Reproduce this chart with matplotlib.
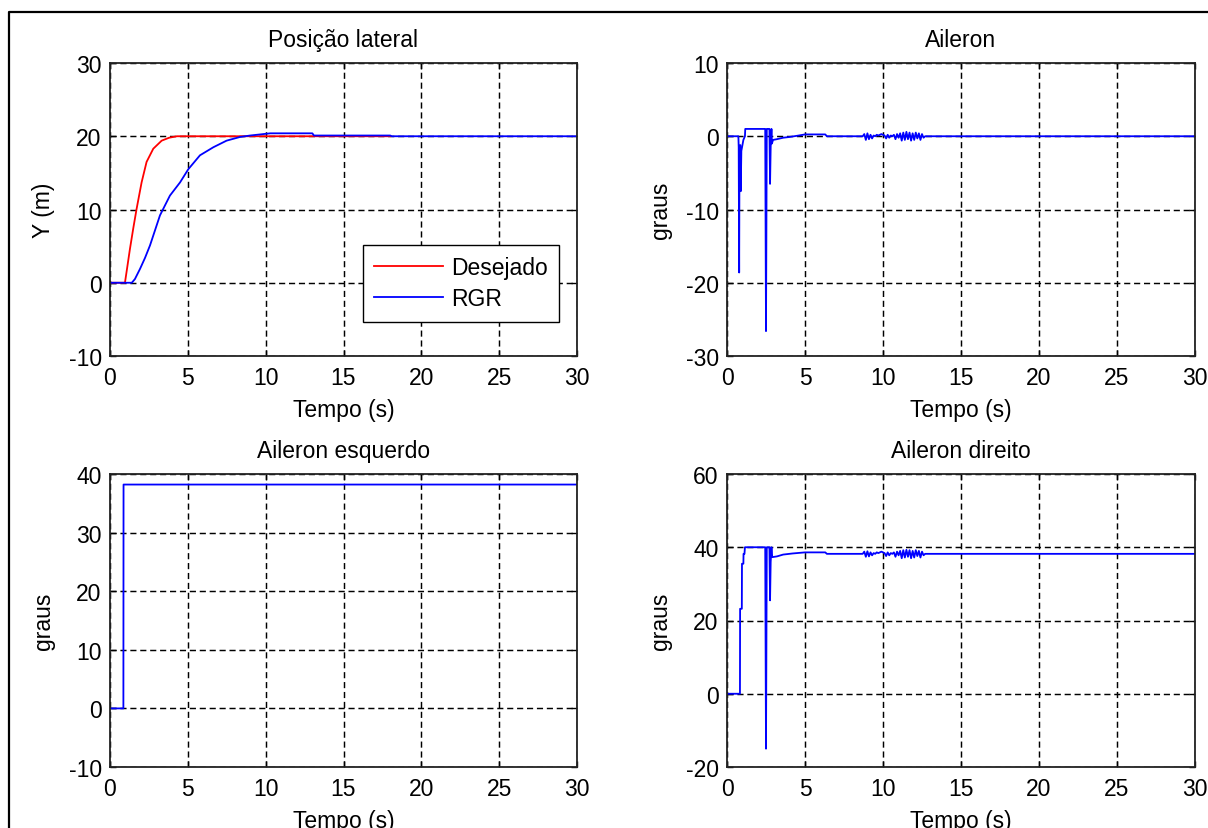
import matplotlib
matplotlib.use("Agg")
import matplotlib.pyplot as plt
from matplotlib.lines import Line2D

plt.rcParams['font.family'] = ['Liberation Sans', 'DejaVu Sans']
plt.rcParams['axes.unicode_minus'] = False

# ---------------- data ----------------
t_des = [0, 0.96, 1.10, 1.28, 1.50, 1.71, 2.03, 2.35, 2.78, 3.32, 3.80, 4.30, 18.0]
y_des = [0, 0, 2.0, 4.6, 7.5, 10.1, 13.7, 16.5, 18.3, 19.4, 19.8, 20.0, 20.0]

t_rgr = [0, 1.40, 1.60, 1.93, 2.25, 2.57, 3.21, 3.85, 4.50, 5.03, 5.78, 6.64, 7.49,
         8.35, 9.00, 10.3, 13.0, 13.1, 18.0, 18.1, 30]
y_rgr = [0, 0, 0.5, 1.9, 3.4, 5.1, 9.2, 11.9, 13.7, 15.5, 17.4, 18.5, 19.4,
         19.9, 20.1, 20.4, 20.4, 20.1, 20.1, 20.0, 20.0]

t_ail = [0, 0.73, 0.75, 0.78, 0.80, 0.85, 0.88, 0.92, 1.05, 1.15, 1.17, 2.45, 2.50,
         2.55, 2.72, 2.76, 2.80, 2.85, 2.88, 2.95, 3.20, 3.60, 4.00, 4.60, 5.00,
         6.30, 6.40, 8.70]
v_ail = [0, 0, -1.5, -18.6, -1.5, -1.2, -7.5, -2.0, -0.5, 0, 1.0, 1.0, -26.6,
         1.0, 1.0, -6.5, -1.5, 1.0, -1.0, -0.5, -0.4, -0.2, -0.1, 0.1, 0.25,
         0.25, 0.0, 0.0]

t_noise = [8.8, 8.9, 9.0, 9.1, 9.2, 9.3, 9.4, 9.5, 9.6, 9.7, 9.8, 9.9, 10.0,
           10.1, 10.2, 10.3, 10.4, 10.5, 10.6, 10.7, 10.8, 10.9, 11.0, 11.1,
           11.2, 11.3, 11.4, 11.5, 11.6, 11.7, 11.8, 11.9, 12.0, 12.1, 12.2,
           12.3, 12.4, 12.5, 12.6, 12.7, 30.0]
v_ail_noise = [0.3, -0.5, 0.4, -0.4, 0.2, -0.3, 0.1, 0.0, 0.2, 0.1, 0.2, 0.3,
               0.2, 0.1, -0.3, 0.2, -0.2, 0.1, 0.0, 0.2, -0.4, 0.3, -0.2, 0.4,
               -0.6, 0.5, -0.5, 0.6, -0.4, 0.5, -0.6, 0.4, -0.5, 0.5, -0.3,
               0.4, -0.5, 0.3, -0.2, 0.0, 0.0]

t_esq = [0, 0.86, 0.87, 30]
v_esq = [0, 0, 38.2, 38.2]

t_dir = [0, 0.83, 0.84, 0.95, 0.96, 1.05, 1.06, 1.12, 1.15, 2.45, 2.50, 2.55,
         2.72, 2.76, 2.80, 2.85, 2.90, 3.20, 3.60, 4.20, 5.00, 6.30, 6.40, 8.70]
v_dir = [0, 0, 23.2, 23.2, 35.5, 35.5, 38.2, 38.2, 40.0, 40.0, -15.0, 40.0,
         40.0, 25.5, 36.0, 40.0, 37.3, 37.5, 38.0, 38.3, 38.6, 38.6, 38.2, 38.2]
v_dir_noise = [38.8, 37.4, 38.9, 37.5, 38.6, 37.8, 38.4, 38.2, 38.6, 38.4, 38.6,
               38.8, 38.6, 38.4, 37.6, 38.6, 37.8, 38.4, 38.2, 38.6, 37.4, 38.8,
               37.8, 39.0, 37.0, 39.2, 37.2, 39.3, 37.4, 39.2, 37.0, 39.0, 37.2,
               39.2, 37.6, 39.0, 37.2, 38.8, 37.8, 38.2, 38.2]

titles = ["Posição lateral", "Aileron", "Aileron esquerdo", "Aileron direito"]
ylabels = ["Y (m)", "graus", "graus", "graus"]
ylims = [(-10, 30), (-30, 10), (-10, 40), (-20, 60)]
ysteps = [10, 10, 10, 20]
xticks = [0, 5, 10, 15, 20, 25, 30]
legend_labels = ["Desejado", "RGR"]

# ---------------- figure ----------------
W, H = 1208, 829
fig = plt.figure(figsize=(W / 100, H / 100), dpi=100)
fig.patch.set_facecolor('white')

def rect(x0, x1, ytop, ybot):
    return [x0 / W, 1 - ybot / H, (x1 - x0) / W, (ybot - ytop) / H]

boxes = [rect(110, 577, 64, 357), rect(727, 1195, 64, 357),
         rect(110, 577, 475, 768), rect(727, 1195, 475, 768)]

FS = 16.5
axes = []
for i, b in enumerate(boxes):
    ax = fig.add_axes(b)
    ax.set_xlim(0, 30)
    ax.set_ylim(*ylims[i])
    ax.set_xticks(xticks)
    ax.set_yticks(list(range(ylims[i][0], ylims[i][1] + 1, ysteps[i])))
    ax.grid(True, color='black', linestyle=(0, (4.2, 2.6)), linewidth=1.05)
    ax.tick_params(direction='in', length=4, width=1.0, labelsize=FS,
                   top=True, right=True, pad=7)
    ax.tick_params(axis='y', pad=6)
    for s in ax.spines.values():
        s.set_linewidth(1.3)
        s.set_color('#222222')
    ax.set_title(titles[i], fontsize=FS, pad=12)
    ax.set_xlabel("Tempo (s)", fontsize=FS, labelpad=7)
    ax.set_ylabel(ylabels[i], fontsize=FS, labelpad=10)
    axes.append(ax)

ax = axes[0]
ax.plot(t_des, y_des, color='#ff0000', lw=1.3, label=legend_labels[0])
ax.plot(t_rgr, y_rgr, color='#0000ff', lw=1.3, label=legend_labels[1])
leg = ax.legend(loc='upper left', bbox_to_anchor=((363 - 110) / 467, (357 - 246) / 293),
                borderaxespad=0, fancybox=False, framealpha=1, edgecolor='black',
                fontsize=FS, handlelength=3.0, handletextpad=0.35,
                borderpad=0.5, labelspacing=0.35)
leg.get_frame().set_linewidth(1.0)

ax = axes[1]
ax.plot(t_ail + t_noise, v_ail + v_ail_noise, color='#0000ff', lw=1.3)

ax = axes[2]
ax.plot(t_esq, v_esq, color='#0000ff', lw=1.3)

ax = axes[3]
ax.plot(t_dir + t_noise, v_dir + v_dir_noise, color='#0000ff', lw=1.3)

# outer frame
fig.add_artist(Line2D([9 / W, 9 / W, 1.0], [0.0, 1 - 13 / H, 1 - 13 / H],
                      transform=fig.transFigure, color='black', lw=1.6))

fig.savefig("out.png", dpi=100)
